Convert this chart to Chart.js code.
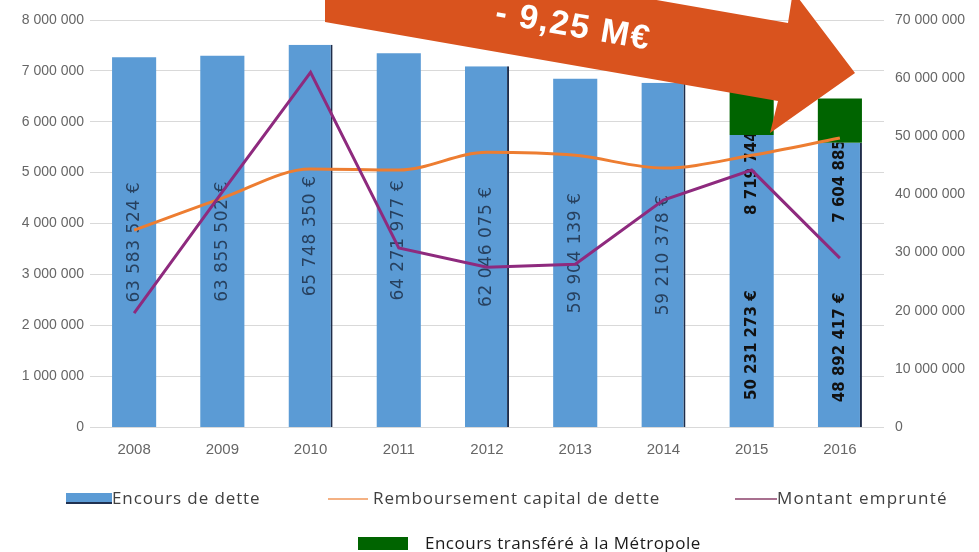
<!DOCTYPE html>
<html lang="fr">
<head>
<meta charset="UTF-8">
<title>Encours de dette</title>
<script src="https://cdn.jsdelivr.net/npm/chart.js@4/dist/chart.umd.min.js"></script>
<style>
    body { margin: 0; background: #fff; }
    .wrap { position: relative; width: 979px; height: 552px; }
    .lg { position: absolute; font-family: "Open Sans", sans-serif; font-size: 17px; line-height: 22px; letter-spacing: 0.9px; white-space: nowrap; }
    .sw { position: absolute; }
</style>
</head>
<body>
<div class="wrap">
    <canvas id="chart"></canvas>
    <!-- légende -->
    <div class="sw" style="left:66px;top:493px;width:46px;height:9px;background:#5b9bd5;border-bottom:2px solid #1f3050;"></div>
    <div class="lg" style="left:112px;top:487px;color:#404040;">Encours de dette</div>
    <div class="sw" style="left:328px;top:498px;width:40px;height:2px;background:#f4b183;"></div>
    <div class="lg" style="left:373px;top:487px;color:#404040;">Remboursement capital de dette</div>
    <div class="sw" style="left:735px;top:498px;width:42px;height:2px;background:#a8708f;"></div>
    <div class="lg" style="left:777px;top:487px;color:#404040;letter-spacing:1.2px;">Montant emprunté</div>
    <div class="sw" style="left:358px;top:537px;width:50px;height:13px;background:#006400;"></div>
    <div class="lg" style="left:425px;top:532px;color:#1a1a1a;letter-spacing:0.5px;">Encours transféré à la Métropole</div>
</div>
<script>
    // données
    const years = ['2008', '2009', '2010', '2011', '2012', '2013', '2014', '2015', '2016'];
    const encours = [63583524, 63855502, 65748350, 64271977, 62046075, 59904139, 59210378, 50231273, 48892417];
    const transfere = [null, null, null, null, null, null, null, 8719744, 7604885];
    const remboursement = [3870000, 4500000, 5070000, 5050000, 5400000, 5340000, 5090000, 5340000, 5680000];
    const emprunte = [2240000, 4620000, 6970000, 3520000, 3140000, 3200000, 4460000, 5050000, 3320000];
    const arrowText = '- 9,25 M€';

    // 8000000 -> "8 000 000"
    function fmt(v) {
        return Math.round(v).toString().replace(/\B(?=(\d{3})+(?!\d))/g, ' ');
    }

    // étiquettes verticales dans les barres bleues (celles du vert coupées au bord du bleu)
    const barLabels = {
        id: 'barLabels',
        afterDatasetDraw(chart, args) {
            if (args.index !== 0) return;
            const ctx = chart.ctx;
            chart.getDatasetMeta(0).data.forEach((bar, i) => {
                const hasGreen = transfere[i] != null;
                const h = bar.base - bar.y;
                ctx.save();
                ctx.translate(bar.x, bar.base - h * (hasGreen ? 0.28 : 0.5));
                ctx.rotate(-Math.PI / 2);
                ctx.textAlign = 'center';
                ctx.textBaseline = 'middle';
                ctx.font = hasGreen ? 'bold 15px "DejaVu Sans"' : '17px "DejaVu Sans"';
                ctx.letterSpacing = hasGreen ? '0px' : '0.6px';
                ctx.fillStyle = hasGreen ? '#111' : '#27405e';
                ctx.fillText(fmt(encours[i]) + ' €', 0, 0);
                ctx.restore();
                if (hasGreen) {
                    ctx.save();
                    ctx.beginPath();
                    ctx.rect(bar.x - bar.width / 2, bar.y, bar.width, h);
                    ctx.clip();
                    ctx.translate(bar.x, bar.y + 80);
                    ctx.rotate(-Math.PI / 2);
                    ctx.textAlign = 'left';
                    ctx.textBaseline = 'middle';
                    ctx.font = 'bold 15px "DejaVu Sans"';
                    ctx.fillStyle = '#111';
                    ctx.fillText(fmt(transfere[i]) + ' €', 0, 0);
                    ctx.restore();
                }
            });
        }
    };

    // grosse flèche orange en haut
    const bigArrow = {
        id: 'bigArrow',
        afterDraw(chart) {
            const ctx = chart.ctx;
            ctx.save();
            ctx.fillStyle = '#d9531e';
            ctx.beginPath();
            ctx.moveTo(325, -58);
            ctx.lineTo(788, 23);
            ctx.lineTo(793, -9);
            ctx.lineTo(855, 73);
            ctx.lineTo(770, 133);
            ctx.lineTo(778, 101);
            ctx.lineTo(325, 22);
            ctx.closePath();
            ctx.fill();
            ctx.translate(573, 27);
            ctx.rotate(Math.atan(0.175));
            ctx.fillStyle = '#fff';
            ctx.font = 'bold 34px "Liberation Sans", Arial, sans-serif';
            ctx.letterSpacing = '1.5px';
            ctx.textAlign = 'center';
            ctx.textBaseline = 'middle';
            ctx.fillText(arrowText, 0, 0);
            ctx.restore();
        }
    };

    const tickFont = { family: '"Liberation Sans", Arial, sans-serif', size: 14 };

    new Chart(document.getElementById('chart'), {
        type: 'bar',
        data: {
            labels: years,
            datasets: [
                {
                    label: 'Encours de dette',
                    data: encours,
                    yAxisID: 'y2',
                    backgroundColor: '#5b9bd5',
                    borderColor: '#1f2d4a',
                    borderWidth: c => (c.dataIndex % 2 === 0 && c.dataIndex >= 2) ? { right: 2, left: 0, top: 0, bottom: 0 } : 0,
                    barPercentage: 0.5,
                    categoryPercentage: 1,
                    order: 3
                },
                {
                    label: 'Encours transféré à la Métropole',
                    data: transfere,
                    yAxisID: 'y2',
                    backgroundColor: '#006400',
                    borderWidth: 0,
                    barPercentage: 0.5,
                    categoryPercentage: 1,
                    order: 4
                },
                {
                    type: 'line',
                    label: 'Remboursement capital de dette',
                    data: remboursement,
                    yAxisID: 'y',
                    borderColor: '#ed7d31',
                    borderWidth: 3,
                    pointRadius: 0,
                    cubicInterpolationMode: 'monotone',
                    order: 2
                },
                {
                    type: 'line',
                    label: 'Montant emprunté',
                    data: emprunte,
                    yAxisID: 'y',
                    borderColor: '#8e2a7e',
                    borderWidth: 3,
                    pointRadius: 0,
                    tension: 0,
                    order: 1
                }
            ]
        },
        options: {
            responsive: true,
            maintainAspectRatio: false,
            animation: false,
            layout: { padding: { top: 20, left: 0, right: 0, bottom: 0 } },
            plugins: {
                legend: { display: false },
                tooltip: { enabled: false }
            },
            scales: {
                x: {
                    stacked: true,
                    grid: { display: false },
                    border: { display: false },
                    ticks: { color: '#666', font: { ...tickFont, size: 15 }, padding: 6 },
                    afterFit: s => { s.height = 125; s.paddingLeft = 0; s.paddingRight = 0; }
                },
                y: {
                    position: 'left',
                    min: 0,
                    max: 8000000,
                    grid: { color: '#d9d9d9', drawTicks: false },
                    border: { display: false },
                    ticks: { stepSize: 1000000, color: '#666', font: tickFont, padding: 6, callback: v => fmt(v) },
                    afterFit: s => { s.width = 90; s.paddingTop = 0; s.paddingBottom = 0; }
                },
                y2: {
                    position: 'right',
                    stacked: true,
                    min: 0,
                    max: 70000000,
                    grid: { display: false, drawTicks: false },
                    border: { display: false },
                    ticks: { stepSize: 10000000, color: '#666', font: tickFont, padding: 11, callback: v => fmt(v) },
                    afterFit: s => { s.width = 95; s.paddingTop = 0; s.paddingBottom = 0; }
                }
            }
        },
        plugins: [barLabels, bigArrow]
    });
</script>
</body>
</html>
